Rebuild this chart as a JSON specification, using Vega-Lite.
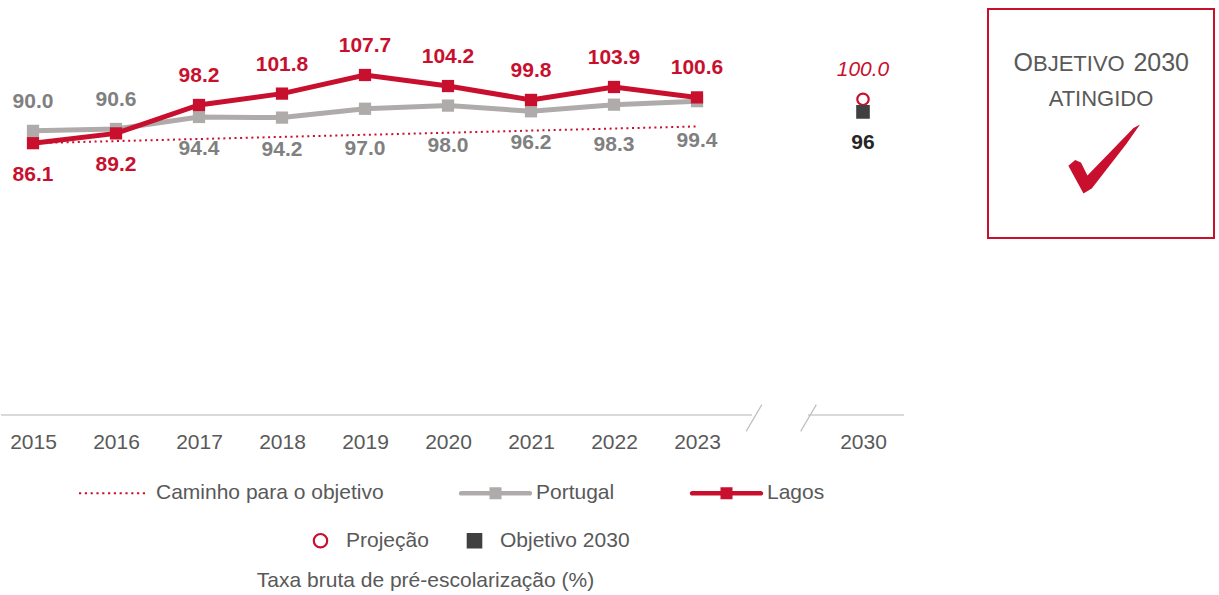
{
  "$schema": "https://vega.github.io/schema/vega-lite/v6.json",
  "padding": {"left": 0, "top": 8, "right": 0, "bottom": 0},
  "background": "white",
  "config": {
    "view": {"stroke": null},
    "font": "Liberation Sans"
  },
  "datasets": {
    "serie": [
      {"ano": "2015", "serie": "Lagos", "valor": 86.1},
      {"ano": "2016", "serie": "Lagos", "valor": 89.2},
      {"ano": "2017", "serie": "Lagos", "valor": 98.2},
      {"ano": "2018", "serie": "Lagos", "valor": 101.8},
      {"ano": "2019", "serie": "Lagos", "valor": 107.7},
      {"ano": "2020", "serie": "Lagos", "valor": 104.2},
      {"ano": "2021", "serie": "Lagos", "valor": 99.8},
      {"ano": "2022", "serie": "Lagos", "valor": 103.9},
      {"ano": "2023", "serie": "Lagos", "valor": 100.6},
      {"ano": "2015", "serie": "Portugal", "valor": 90.0},
      {"ano": "2016", "serie": "Portugal", "valor": 90.6},
      {"ano": "2017", "serie": "Portugal", "valor": 94.4},
      {"ano": "2018", "serie": "Portugal", "valor": 94.2},
      {"ano": "2019", "serie": "Portugal", "valor": 97.0},
      {"ano": "2020", "serie": "Portugal", "valor": 98.0},
      {"ano": "2021", "serie": "Portugal", "valor": 96.2},
      {"ano": "2022", "serie": "Portugal", "valor": 98.3},
      {"ano": "2023", "serie": "Portugal", "valor": 99.4},
      {"ano": "2015", "serie": "Caminho para o objetivo", "valor": 86.1},
      {"ano": "2023", "serie": "Caminho para o objetivo", "valor": 91.4}
    ],
    "meta": [
      {"ano": "2030", "serie": "Projeção", "valor": 100.0},
      {"ano": "2030", "serie": "Objetivo 2030", "valor": 96}
    ]
  },
  "bounds": "flush",
  "spacing": 84,
  "hconcat": [
    {
      "width": 903,
      "height": 406,
      "title": {"text": "Taxa bruta de pré-escolarização (%)", "orient": "bottom", "anchor": "middle", "dx": -27, "offset": 117, "fontSize": 21, "fontWeight": "normal", "color": "#595959", "font": "Liberation Sans"},
      "layer": [
        {
          "data": {"values": [{"eixo": "x"}]},
          "mark": {"type": "rule", "color": "#D9D9D9", "strokeWidth": 2},
          "encoding": {
            "y": {"datum": 0, "type": "quantitative", "scale": {"domain": [0, 128.6], "nice": false, "zero": false}, "axis": null}
          }
        },
        {
          "data": {"values": [{"eixo": "quebra"}]},
          "mark": {"type": "tick", "orient": "horizontal", "color": "white", "size": 56, "thickness": 5, "opacity": 1},
          "encoding": {
            "x": {"datum": "gap", "type": "ordinal", "scale": {"type": "point", "domain": ["2015","2016","2017","2018","2019","2020","2021","2022","2023","gap","2030"], "range": [32, 862], "padding": 0}, "axis": {"title": null, "domain": false, "ticks": false, "tickSize": 0, "grid": false, "labelFontSize": 21, "labelColor": "#595959", "labelFont": "Liberation Sans", "labelPadding": 16.5, "labelAngle": 0, "labelBaseline": "top", "labelExpr": "datum.value == 'gap' ? '' : datum.value"}},
            "y": {"datum": 0, "type": "quantitative", "scale": {"domain": [0, 128.6], "nice": false, "zero": false}, "axis": null}
          }
        },
        {
          "data": {"values": [{"eixo": "quebra"}]},
          "mark": {"type": "point", "shape": "M-0.58,0.99L0.58,-0.99", "filled": false, "stroke": "#BFBFBF", "strokeWidth": 1.2, "size": 729, "opacity": 1, "xOffset": -26, "yOffset": 3},
          "encoding": {
            "x": {"datum": "gap", "type": "ordinal", "scale": {"type": "point", "domain": ["2015","2016","2017","2018","2019","2020","2021","2022","2023","gap","2030"], "range": [32, 862], "padding": 0}, "axis": {"title": null, "domain": false, "ticks": false, "tickSize": 0, "grid": false, "labelFontSize": 21, "labelColor": "#595959", "labelFont": "Liberation Sans", "labelPadding": 16.5, "labelAngle": 0, "labelBaseline": "top", "labelExpr": "datum.value == 'gap' ? '' : datum.value"}},
            "y": {"datum": 0, "type": "quantitative", "scale": {"domain": [0, 128.6], "nice": false, "zero": false}, "axis": null}
          }
        },
        {
          "data": {"values": [{"eixo": "quebra"}]},
          "mark": {"type": "point", "shape": "M-0.58,0.99L0.58,-0.99", "filled": false, "stroke": "#BFBFBF", "strokeWidth": 1.2, "size": 729, "opacity": 1, "xOffset": 28.5, "yOffset": 3},
          "encoding": {
            "x": {"datum": "gap", "type": "ordinal", "scale": {"type": "point", "domain": ["2015","2016","2017","2018","2019","2020","2021","2022","2023","gap","2030"], "range": [32, 862], "padding": 0}, "axis": {"title": null, "domain": false, "ticks": false, "tickSize": 0, "grid": false, "labelFontSize": 21, "labelColor": "#595959", "labelFont": "Liberation Sans", "labelPadding": 16.5, "labelAngle": 0, "labelBaseline": "top", "labelExpr": "datum.value == 'gap' ? '' : datum.value"}},
            "y": {"datum": 0, "type": "quantitative", "scale": {"domain": [0, 128.6], "nice": false, "zero": false}, "axis": null}
          }
        },
        {
          "data": {"name": "serie"},
          "transform": [{"filter": "datum.serie == 'Caminho para o objetivo'"}],
          "mark": {"type": "line", "color": "#C8102E", "strokeWidth": 2, "strokeDash": [2, 3.6]},
          "encoding": {
            "x": {"field": "ano", "type": "ordinal", "scale": {"type": "point", "domain": ["2015","2016","2017","2018","2019","2020","2021","2022","2023","gap","2030"], "range": [32, 862], "padding": 0}, "axis": {"title": null, "domain": false, "ticks": false, "tickSize": 0, "grid": false, "labelFontSize": 21, "labelColor": "#595959", "labelFont": "Liberation Sans", "labelPadding": 16.5, "labelAngle": 0, "labelBaseline": "top", "labelExpr": "datum.value == 'gap' ? '' : datum.value"}},
            "y": {"field": "valor", "type": "quantitative", "scale": {"domain": [0, 128.6], "nice": false, "zero": false}, "axis": null}
          }
        },
        {
          "data": {"name": "serie"},
          "transform": [{"filter": "datum.serie == 'Portugal'"}],
          "mark": {"type": "line", "color": "#AFABAB", "strokeWidth": 5},
          "encoding": {
            "x": {"field": "ano", "type": "ordinal", "scale": {"type": "point", "domain": ["2015","2016","2017","2018","2019","2020","2021","2022","2023","gap","2030"], "range": [32, 862], "padding": 0}, "axis": {"title": null, "domain": false, "ticks": false, "tickSize": 0, "grid": false, "labelFontSize": 21, "labelColor": "#595959", "labelFont": "Liberation Sans", "labelPadding": 16.5, "labelAngle": 0, "labelBaseline": "top", "labelExpr": "datum.value == 'gap' ? '' : datum.value"}},
            "y": {"field": "valor", "type": "quantitative", "scale": {"domain": [0, 128.6], "nice": false, "zero": false}, "axis": null}
          }
        },
        {
          "data": {"name": "serie"},
          "transform": [{"filter": "datum.serie == 'Portugal'"}],
          "mark": {"type": "point", "shape": "square", "filled": true, "color": "#AFABAB", "size": 150, "opacity": 1},
          "encoding": {
            "x": {"field": "ano", "type": "ordinal", "scale": {"type": "point", "domain": ["2015","2016","2017","2018","2019","2020","2021","2022","2023","gap","2030"], "range": [32, 862], "padding": 0}, "axis": {"title": null, "domain": false, "ticks": false, "tickSize": 0, "grid": false, "labelFontSize": 21, "labelColor": "#595959", "labelFont": "Liberation Sans", "labelPadding": 16.5, "labelAngle": 0, "labelBaseline": "top", "labelExpr": "datum.value == 'gap' ? '' : datum.value"}},
            "y": {"field": "valor", "type": "quantitative", "scale": {"domain": [0, 128.6], "nice": false, "zero": false}, "axis": null}
          }
        },
        {
          "data": {"name": "serie"},
          "transform": [{"filter": "datum.serie == 'Lagos'"}],
          "mark": {"type": "line", "color": "#C8102E", "strokeWidth": 5},
          "encoding": {
            "x": {"field": "ano", "type": "ordinal", "scale": {"type": "point", "domain": ["2015","2016","2017","2018","2019","2020","2021","2022","2023","gap","2030"], "range": [32, 862], "padding": 0}, "axis": {"title": null, "domain": false, "ticks": false, "tickSize": 0, "grid": false, "labelFontSize": 21, "labelColor": "#595959", "labelFont": "Liberation Sans", "labelPadding": 16.5, "labelAngle": 0, "labelBaseline": "top", "labelExpr": "datum.value == 'gap' ? '' : datum.value"}},
            "y": {"field": "valor", "type": "quantitative", "scale": {"domain": [0, 128.6], "nice": false, "zero": false}, "axis": null}
          }
        },
        {
          "data": {"name": "serie"},
          "transform": [{"filter": "datum.serie == 'Lagos'"}],
          "mark": {"type": "point", "shape": "square", "filled": true, "color": "#C8102E", "size": 150, "opacity": 1},
          "encoding": {
            "x": {"field": "ano", "type": "ordinal", "scale": {"type": "point", "domain": ["2015","2016","2017","2018","2019","2020","2021","2022","2023","gap","2030"], "range": [32, 862], "padding": 0}, "axis": {"title": null, "domain": false, "ticks": false, "tickSize": 0, "grid": false, "labelFontSize": 21, "labelColor": "#595959", "labelFont": "Liberation Sans", "labelPadding": 16.5, "labelAngle": 0, "labelBaseline": "top", "labelExpr": "datum.value == 'gap' ? '' : datum.value"}},
            "y": {"field": "valor", "type": "quantitative", "scale": {"domain": [0, 128.6], "nice": false, "zero": false}, "axis": null}
          }
        },
        {
          "data": {"name": "serie"},
          "transform": [{"filter": "datum.serie == 'Lagos' && datum.ano != '2015' && datum.ano != '2016'"}],
          "mark": {"type": "text", "font": "Liberation Sans", "fontSize": 21, "fontWeight": "bold", "color": "#C8102E", "baseline": "middle", "dy": -29},
          "encoding": {
            "x": {"field": "ano", "type": "ordinal", "scale": {"type": "point", "domain": ["2015","2016","2017","2018","2019","2020","2021","2022","2023","gap","2030"], "range": [32, 862], "padding": 0}, "axis": {"title": null, "domain": false, "ticks": false, "tickSize": 0, "grid": false, "labelFontSize": 21, "labelColor": "#595959", "labelFont": "Liberation Sans", "labelPadding": 16.5, "labelAngle": 0, "labelBaseline": "top", "labelExpr": "datum.value == 'gap' ? '' : datum.value"}},
            "y": {"field": "valor", "type": "quantitative", "scale": {"domain": [0, 128.6], "nice": false, "zero": false}, "axis": null},
            "text": {"field": "valor", "type": "quantitative", "format": ".1f"}
          }
        },
        {
          "data": {"name": "serie"},
          "transform": [{"filter": "datum.serie == 'Lagos' && (datum.ano == '2015' || datum.ano == '2016')"}],
          "mark": {"type": "text", "font": "Liberation Sans", "fontSize": 21, "fontWeight": "bold", "color": "#C8102E", "baseline": "middle", "dy": 32},
          "encoding": {
            "x": {"field": "ano", "type": "ordinal", "scale": {"type": "point", "domain": ["2015","2016","2017","2018","2019","2020","2021","2022","2023","gap","2030"], "range": [32, 862], "padding": 0}, "axis": {"title": null, "domain": false, "ticks": false, "tickSize": 0, "grid": false, "labelFontSize": 21, "labelColor": "#595959", "labelFont": "Liberation Sans", "labelPadding": 16.5, "labelAngle": 0, "labelBaseline": "top", "labelExpr": "datum.value == 'gap' ? '' : datum.value"}},
            "y": {"field": "valor", "type": "quantitative", "scale": {"domain": [0, 128.6], "nice": false, "zero": false}, "axis": null},
            "text": {"field": "valor", "type": "quantitative", "format": ".1f"}
          }
        },
        {
          "data": {"name": "serie"},
          "transform": [{"filter": "datum.serie == 'Portugal' && (datum.ano == '2015' || datum.ano == '2016')"}],
          "mark": {"type": "text", "font": "Liberation Sans", "fontSize": 21, "fontWeight": "bold", "color": "#808080", "baseline": "middle", "dy": -29},
          "encoding": {
            "x": {"field": "ano", "type": "ordinal", "scale": {"type": "point", "domain": ["2015","2016","2017","2018","2019","2020","2021","2022","2023","gap","2030"], "range": [32, 862], "padding": 0}, "axis": {"title": null, "domain": false, "ticks": false, "tickSize": 0, "grid": false, "labelFontSize": 21, "labelColor": "#595959", "labelFont": "Liberation Sans", "labelPadding": 16.5, "labelAngle": 0, "labelBaseline": "top", "labelExpr": "datum.value == 'gap' ? '' : datum.value"}},
            "y": {"field": "valor", "type": "quantitative", "scale": {"domain": [0, 128.6], "nice": false, "zero": false}, "axis": null},
            "text": {"field": "valor", "type": "quantitative", "format": ".1f"}
          }
        },
        {
          "data": {"name": "serie"},
          "transform": [{"filter": "datum.serie == 'Portugal' && (datum.ano == '2017' || datum.ano == '2018' || datum.ano == '2021')"}],
          "mark": {"type": "text", "font": "Liberation Sans", "fontSize": 21, "fontWeight": "bold", "color": "#808080", "baseline": "middle", "dy": 32},
          "encoding": {
            "x": {"field": "ano", "type": "ordinal", "scale": {"type": "point", "domain": ["2015","2016","2017","2018","2019","2020","2021","2022","2023","gap","2030"], "range": [32, 862], "padding": 0}, "axis": {"title": null, "domain": false, "ticks": false, "tickSize": 0, "grid": false, "labelFontSize": 21, "labelColor": "#595959", "labelFont": "Liberation Sans", "labelPadding": 16.5, "labelAngle": 0, "labelBaseline": "top", "labelExpr": "datum.value == 'gap' ? '' : datum.value"}},
            "y": {"field": "valor", "type": "quantitative", "scale": {"domain": [0, 128.6], "nice": false, "zero": false}, "axis": null},
            "text": {"field": "valor", "type": "quantitative", "format": ".1f"}
          }
        },
        {
          "data": {"name": "serie"},
          "transform": [{"filter": "datum.serie == 'Portugal' && (datum.ano == '2019' || datum.ano == '2020' || datum.ano == '2022' || datum.ano == '2023')"}],
          "mark": {"type": "text", "font": "Liberation Sans", "fontSize": 21, "fontWeight": "bold", "color": "#808080", "baseline": "middle", "dy": 40},
          "encoding": {
            "x": {"field": "ano", "type": "ordinal", "scale": {"type": "point", "domain": ["2015","2016","2017","2018","2019","2020","2021","2022","2023","gap","2030"], "range": [32, 862], "padding": 0}, "axis": {"title": null, "domain": false, "ticks": false, "tickSize": 0, "grid": false, "labelFontSize": 21, "labelColor": "#595959", "labelFont": "Liberation Sans", "labelPadding": 16.5, "labelAngle": 0, "labelBaseline": "top", "labelExpr": "datum.value == 'gap' ? '' : datum.value"}},
            "y": {"field": "valor", "type": "quantitative", "scale": {"domain": [0, 128.6], "nice": false, "zero": false}, "axis": null},
            "text": {"field": "valor", "type": "quantitative", "format": ".1f"}
          }
        },
        {
          "data": {"name": "meta"},
          "mark": {"type": "point", "filled": true, "size": 130, "strokeWidth": 2.2, "opacity": 1},
          "encoding": {
            "x": {"field": "ano", "type": "ordinal", "scale": {"type": "point", "domain": ["2015","2016","2017","2018","2019","2020","2021","2022","2023","gap","2030"], "range": [32, 862], "padding": 0}, "axis": {"title": null, "domain": false, "ticks": false, "tickSize": 0, "grid": false, "labelFontSize": 21, "labelColor": "#595959", "labelFont": "Liberation Sans", "labelPadding": 16.5, "labelAngle": 0, "labelBaseline": "top", "labelExpr": "datum.value == 'gap' ? '' : datum.value"}},
            "y": {"field": "valor", "type": "quantitative", "scale": {"domain": [0, 128.6], "nice": false, "zero": false}, "axis": null},
            "shape": {"field": "serie", "type": "nominal", "scale": {"domain": ["Projeção", "Objetivo 2030"], "range": ["circle", "square"]}, "legend": {"title": null, "orient": "none", "legendX": 309, "legendY": 521, "direction": "horizontal", "columns": 2, "labelFontSize": 21, "labelColor": "#595959", "labelFont": "Liberation Sans", "labelOffset": 15, "columnPadding": 34, "labelLimit": 400, "symbolStrokeWidth": 2.2, "symbolSize": 180, "padding": 0, "symbolOpacity": 1}},
            "fill": {"field": "serie", "type": "nominal", "scale": {"domain": ["Projeção", "Objetivo 2030"], "range": ["white", "#404040"]}, "legend": {"title": null, "orient": "none", "legendX": 309, "legendY": 521, "direction": "horizontal", "columns": 2, "labelFontSize": 21, "labelColor": "#595959", "labelFont": "Liberation Sans", "labelOffset": 15, "columnPadding": 34, "labelLimit": 400, "symbolStrokeWidth": 2.2, "symbolSize": 180, "padding": 0, "symbolOpacity": 1}},
            "stroke": {"field": "serie", "type": "nominal", "scale": {"domain": ["Projeção", "Objetivo 2030"], "range": ["#C8102E", "#404040"]}, "legend": {"title": null, "orient": "none", "legendX": 309, "legendY": 521, "direction": "horizontal", "columns": 2, "labelFontSize": 21, "labelColor": "#595959", "labelFont": "Liberation Sans", "labelOffset": 15, "columnPadding": 34, "labelLimit": 400, "symbolStrokeWidth": 2.2, "symbolSize": 180, "padding": 0, "symbolOpacity": 1}}
          }
        },
        {
          "data": {"name": "meta"},
          "transform": [{"filter": "datum.serie == 'Projeção'"}],
          "mark": {"type": "text", "font": "Liberation Sans", "fontSize": 21, "fontStyle": "italic", "color": "#C8102E", "baseline": "middle", "dy": -29},
          "encoding": {
            "x": {"field": "ano", "type": "ordinal", "scale": {"type": "point", "domain": ["2015","2016","2017","2018","2019","2020","2021","2022","2023","gap","2030"], "range": [32, 862], "padding": 0}, "axis": {"title": null, "domain": false, "ticks": false, "tickSize": 0, "grid": false, "labelFontSize": 21, "labelColor": "#595959", "labelFont": "Liberation Sans", "labelPadding": 16.5, "labelAngle": 0, "labelBaseline": "top", "labelExpr": "datum.value == 'gap' ? '' : datum.value"}},
            "y": {"field": "valor", "type": "quantitative", "scale": {"domain": [0, 128.6], "nice": false, "zero": false}, "axis": null},
            "text": {"field": "valor", "type": "quantitative", "format": ".1f"}
          }
        },
        {
          "data": {"name": "meta"},
          "transform": [{"filter": "datum.serie == 'Objetivo 2030'"}],
          "mark": {"type": "text", "font": "Liberation Sans", "fontSize": 21, "fontWeight": "bold", "color": "#262626", "baseline": "middle", "dy": 31},
          "encoding": {
            "x": {"field": "ano", "type": "ordinal", "scale": {"type": "point", "domain": ["2015","2016","2017","2018","2019","2020","2021","2022","2023","gap","2030"], "range": [32, 862], "padding": 0}, "axis": {"title": null, "domain": false, "ticks": false, "tickSize": 0, "grid": false, "labelFontSize": 21, "labelColor": "#595959", "labelFont": "Liberation Sans", "labelPadding": 16.5, "labelAngle": 0, "labelBaseline": "top", "labelExpr": "datum.value == 'gap' ? '' : datum.value"}},
            "y": {"field": "valor", "type": "quantitative", "scale": {"domain": [0, 128.6], "nice": false, "zero": false}, "axis": null},
            "text": {"field": "valor", "type": "quantitative", "format": ".0f"}
          }
        },
        {
          "data": {"name": "serie"},
          "transform": [{"filter": "false"}],
          "mark": {"type": "point", "filled": true, "opacity": 1, "size": 5329},
          "encoding": {
            "x": {"field": "ano", "type": "ordinal", "scale": {"type": "point", "domain": ["2015","2016","2017","2018","2019","2020","2021","2022","2023","gap","2030"], "range": [32, 862], "padding": 0}, "axis": {"title": null, "domain": false, "ticks": false, "tickSize": 0, "grid": false, "labelFontSize": 21, "labelColor": "#595959", "labelFont": "Liberation Sans", "labelPadding": 16.5, "labelAngle": 0, "labelBaseline": "top", "labelExpr": "datum.value == 'gap' ? '' : datum.value"}},
            "y": {"field": "valor", "type": "quantitative", "scale": {"domain": [0, 128.6], "nice": false, "zero": false}, "axis": null},
            "color": {
              "field": "serie", "type": "nominal",
              "scale": {"domain": ["Caminho para o objetivo", "Portugal", "Lagos"], "range": ["#C8102E", "#AFABAB", "#C8102E"]},
              "legend": {
                "title": null, "orient": "none", "legendX": 78, "legendY": 447.5, "direction": "horizontal", "columns": 3,
                "labelFontSize": 21, "labelColor": "#595959", "labelFont": "Liberation Sans", "labelOffset": 4, "columnPadding": 74, "labelLimit": 400,
                "symbolSize": 5329, "symbolStrokeWidth": 0, "symbolOpacity": 1, "padding": 0,
                "encode": {"symbols": {"update": {"shape": {"signal": "datum.value == 'Caminho para o objetivo' ? 'M-1,-0.03h0.06v0.06h-0.06zM-0.841,-0.03h0.06v0.06h-0.06zM-0.682,-0.03h0.06v0.06h-0.06zM-0.523,-0.03h0.06v0.06h-0.06zM-0.364,-0.03h0.06v0.06h-0.06zM-0.205,-0.03h0.06v0.06h-0.06zM-0.046,-0.03h0.06v0.06h-0.06zM0.113,-0.03h0.06v0.06h-0.06zM0.272,-0.03h0.06v0.06h-0.06zM0.431,-0.03h0.06v0.06h-0.06zM0.59,-0.03h0.06v0.06h-0.06zM0.749,-0.03h0.06v0.06h-0.06z' : 'M-0.94,-0.065H0.94A0.065,0.065 0 0 1 0.94,0.065H-0.94A0.065,0.065 0 0 1 -0.94,-0.065ZM-0.165,-0.165H0.165V0.165H-0.165Z'"}}}}
              }
            }
          }
        }
      ]
    },
    {
      "width": 226,
      "height": 229,
      "view": {"stroke": "#C8102E", "strokeWidth": 2, "fill": "white"},
      "data": {"values": [{"meta": "Objetivo 2030 atingido"}]},
      "layer": [
        {"mark": {"type": "text", "text": "O", "font": "Liberation Sans", "fontSize": 25, "color": "#595959", "align": "left", "baseline": "alphabetic", "dx": -87.5, "dy": -52.8}},
        {"mark": {"type": "text", "text": "BJETIVO", "font": "Liberation Sans", "fontSize": 22, "color": "#595959", "align": "left", "baseline": "alphabetic", "dx": -68, "dy": -52.8}},
        {"mark": {"type": "text", "text": "2030", "font": "Liberation Sans", "fontSize": 25, "color": "#595959", "align": "right", "baseline": "alphabetic", "dx": 88, "dy": -52.8}},
        {"mark": {"type": "text", "text": "ATINGIDO", "font": "Liberation Sans", "fontSize": 22, "color": "#595959", "align": "center", "baseline": "alphabetic", "dx": 0, "dy": -17.8}},
        {"mark": {"type": "point", "shape": "M-0.99,0.19L-0.8,0.03L-0.64,0.1L-0.46,0.46L0.82,-0.86L1,-0.96L0.62,-0.42L-0.34,0.82L-0.57,0.96L-0.82,0.5Z", "size": 5184, "filled": true, "color": "#C8102E", "opacity": 1, "xOffset": 3, "yOffset": 35.5}}
      ]
    }
  ]
}
